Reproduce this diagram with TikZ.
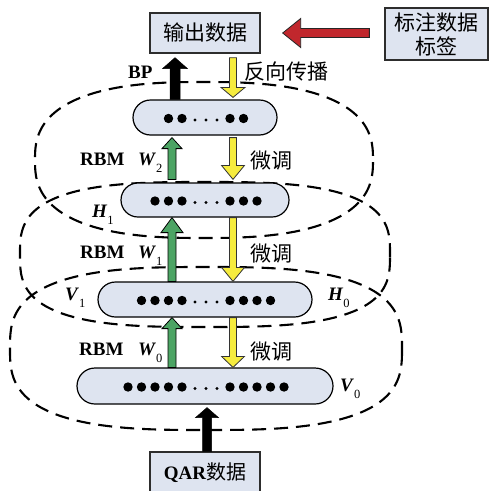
\documentclass[tikz,border=0pt]{standalone}
\usepackage{fontspec}
\setmainfont{Liberation Serif}
\newfontfamily\cjk{Noto Sans CJK SC}
\usetikzlibrary{calc,shapes.misc}

\definecolor{boxfill}{RGB}{222,228,240}
\definecolor{boxline}{RGB}{45,45,45}
\definecolor{upgreen}{RGB}{76,164,100}
\definecolor{downyellow}{RGB}{246,236,62}
\definecolor{labelred}{RGB}{193,39,45}

\tikzset{
  databox/.style={draw=boxline, line width=1.3pt, fill=boxfill, inner sep=0pt,
    minimum width=110pt, minimum height=40pt, font=\cjk\fontsize{21}{24}\selectfont},
  layer/.style={draw=black, line width=1.2pt, fill=boxfill, rounded rectangle, inner sep=0pt},
  ring/.style={draw=black, line width=2.1pt, dash pattern=on 14pt off 8pt},
  tag/.style={inner sep=0pt, font=\bfseries\fontsize{19}{22}\selectfont},
  cjktag/.style={inner sep=0pt, font=\cjk\fontsize{21}{24}\selectfont},
  greenarrow/.style={fill=upgreen, draw=black, line width=0.8pt, line join=miter},
  yellowarrow/.style={fill=downyellow, draw=black!80, line width=0.8pt, line join=miter},
  blackarrow/.style={fill=black, draw=black, line width=0.5pt, line join=miter},
  redarrow/.style={fill=labelred, draw=black!85, line width=0.8pt, line join=miter},
}

% block arrow: style, tail, tip, half shaft width, half head width, head length
\newcommand{\fatarrow}[6]{%
  \draw[#1]
    ($(#2)!#4!90:(#3)$) --
    ($(#3)!#6!(#2)!#4!-90:(#2)$) --
    ($(#3)!#6!(#2)!#5!-90:(#2)$) --
    (#3) --
    ($(#3)!#6!(#2)!#5!90:(#2)$) --
    ($(#3)!#6!(#2)!#4!90:(#2)$) --
    ($(#2)!#4!-90:(#3)$) -- cycle;}

% dashed superellipse: centre x, centre y, half width, half height, exponent
\newcommand{\dashedring}[5]{%
  \draw[ring] plot[domain=0.5:360.5, samples=361]
    ({#1+#3*sign(cos(\x))*abs(cos(\x))^#5}, {#2+#4*sign(sin(\x))*abs(sin(\x))^#5}) -- cycle;}

% row of units inside a layer: node, units per side
\newcommand{\unitrow}[2]{%
  \foreach \k in {1,...,#2} {
    \fill ($(#1.center)+({1+24+(\k-1)*13.5},1)$) circle (4.7pt);
    \fill ($(#1.center)+({1-24-(\k-1)*13.5},1)$) circle (4.7pt);
  }
  \foreach \k in {-11,0,11} { \fill ($(#1.center)+({1+\k},2.5)$) circle (1.6pt); }
}

% bold italic symbol with upright subscript
\newcommand{\symsub}[2]{\textbf{\textit{#1}}\raisebox{-7pt}{\mdseries\fontsize{12.5}{13}\selectfont #2}}

\begin{document}
\begin{tikzpicture}[x=1pt, y=-1pt]
  \clip (0,0) rectangle (492,490);
  \fill[white] (0,0) rectangle (492,490);

  % RBM groupings
  \dashedring{204}{160}{169}{78}{0.77}
  \dashedring{205}{254.5}{185}{72.5}{0.667}
  \dashedring{206}{348.5}{196}{81.5}{0.69}

  % data boxes
  \node[databox] (out) at (205,33) {输出数据};
  \node[databox, minimum width=103pt, minimum height=52pt, align=center] (lab) at (436.5,34) {标注数据\\标签};
  \node[databox, minimum height=42pt, font=\bfseries\fontsize{19}{22}\selectfont] (qar) at (205,473)
    {QAR{\cjk\mdseries\fontsize{20}{22}\selectfont 数据}};

  % network layers
  \node[layer, minimum width=144pt, minimum height=35pt] (L3) at (205,117.5) {};
  \node[layer, minimum width=168pt, minimum height=34pt] (L2) at (205,200) {};
  \node[layer, minimum width=214pt, minimum height=35pt] (L1) at (205,299.5) {};
  \node[layer, minimum width=256pt, minimum height=36pt] (L0) at (205,386) {};
  \unitrow{L3}{2}
  \unitrow{L2}{3}
  \unitrow{L1}{4}
  \unitrow{L0}{5}

  % arrow end points
  \coordinate (redtail) at ($(lab.west)+(-15,-1)$);
  \coordinate (redtip) at ($(out.east)+(22,0)$);
  \coordinate (bptail) at ($(L3.north)+(-30,0)$);
  \coordinate (bptip) at ($(out.south)+(-30,4)$);
  \coordinate (bktail) at ($(out.south)+(28,4)$);
  \coordinate (bktip) at ($(L3.north)+(28,-2)$);
  \coordinate (g2tail) at ($(L2.north)+(-33,-3)$);
  \coordinate (g2tip) at ($(L3.south)+(-33,2)$);
  \coordinate (y2tail) at ($(L3.south)+(28,2)$);
  \coordinate (y2tip) at ($(L2.north)+(28,-3)$);
  \coordinate (g1tail) at ($(L1.north)+(-33,0)$);
  \coordinate (g1tip) at ($(L2.south)+(-33,0)$);
  \coordinate (y1tail) at ($(L2.south)+(28,0)$);
  \coordinate (y1tip) at ($(L1.north)+(28,0)$);
  \coordinate (g0tail) at ($(L0.north)+(-33,0)$);
  \coordinate (g0tip) at ($(L1.south)+(-33,0)$);
  \coordinate (y0tail) at ($(L1.south)+(28,0)$);
  \coordinate (y0tip) at ($(L0.north)+(28,0)$);
  \coordinate (intail) at ($(qar.north)+(2,0)$);
  \coordinate (intip) at ($(L0.south)+(2,3)$);

  % arrows
  \fatarrow{redarrow}{redtail}{redtip}{4.5pt}{14.5pt}{18pt}
  \fatarrow{blackarrow}{bptail}{bptip}{5pt}{12.5pt}{11pt}
  \fatarrow{yellowarrow}{bktail}{bktip}{3.5pt}{12pt}{10pt}
  \fatarrow{greenarrow}{g2tail}{g2tip}{4pt}{10pt}{11pt}
  \fatarrow{yellowarrow}{y2tail}{y2tip}{3.5pt}{11.5pt}{14pt}
  \fatarrow{greenarrow}{g1tail}{g1tip}{4pt}{11pt}{15pt}
  \fatarrow{yellowarrow}{y1tail}{y1tip}{3.5pt}{11.5pt}{14pt}
  \fatarrow{greenarrow}{g0tail}{g0tip}{4pt}{10pt}{11pt}
  \fatarrow{yellowarrow}{y0tail}{y0tip}{3.5pt}{11.5pt}{11pt}
  \fatarrow{blackarrow}{intail}{intip}{4.5pt}{11.5pt}{10pt}

  % labels
  \node[tag, anchor=base west] (bp) at (128,78) {BP};
  \node[cjktag] (bk) at (286,72) {反向传播};

  \node[tag, anchor=base west] (rbm2) at (80,165) {RBM};
  \node[tag, anchor=base west] (w2) at (138,165) {\symsub{W}{2}};
  \node[cjktag] (ft2) at (271,161) {微调};

  \node[tag, anchor=base west] (h1) at (92,217) {\symsub{H}{1}};

  \node[tag, anchor=base west] (rbm1) at (80,258) {RBM};
  \node[tag, anchor=base west] (w1) at (138,258) {\symsub{W}{1}};
  \node[cjktag] (ft1) at (271,254) {微调};

  \node[tag, anchor=base west] (v1) at (65,300) {\symsub{V}{1}};
  \node[tag, anchor=base west] (h0) at (328,300) {\symsub{H}{0}};

  \node[tag, anchor=base west] (rbm0) at (79,355) {RBM};
  \node[tag, anchor=base west] (w0) at (138,355) {\symsub{W}{0}};
  \node[cjktag] (ft0) at (271,352) {微调};

  \node[tag, anchor=base west] (v0) at (340,391) {\symsub{V}{0}};
\end{tikzpicture}
\end{document}
